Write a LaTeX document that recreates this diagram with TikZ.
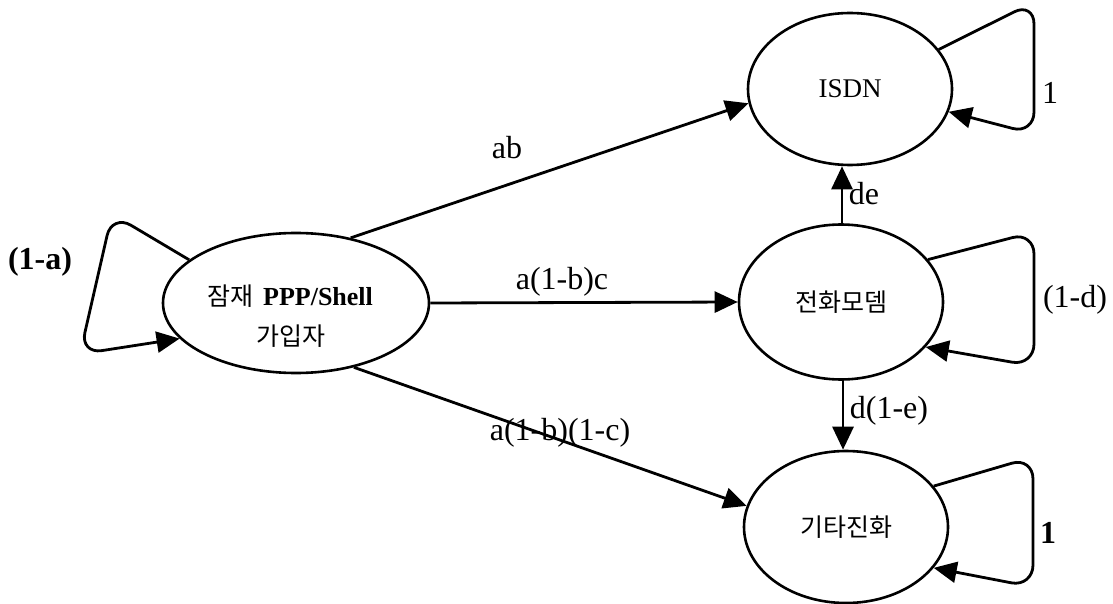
\documentclass[tikz,border=0pt]{standalone}
\usepackage{fontspec}
\setmainfont{Liberation Serif}
\newfontfamily\kr{Noto Sans CJK KR}
\usetikzlibrary{shapes.geometric,arrows.meta}
\begin{document}
\begin{tikzpicture}[x=1pt,y=-1pt,
  state/.style={draw, ellipse, line width=2.6pt, inner sep=0pt},
  edge/.style={line width=2.8pt, -{Triangle[length=23pt,width=21pt]}},
  loopedge/.style={edge, rounded corners=22pt},
  lbl/.style={font=\fontsize{32}{36}\selectfont, inner sep=0pt},
  krtext/.style={font=\kr\fontsize{25}{40}\selectfont}]
\useasboundingbox (0,0) rectangle (1113,604);
\node[state, minimum width=266pt, minimum height=140pt, align=center] (A) at (296,303) {};
\node[krtext, anchor=center] (A1) at (290,296) {잠재\hspace{10pt}\fontspec{Liberation Serif}\bfseries\fontsize{26}{30}\selectfont PPP/Shell};
\node[krtext, anchor=center] (A2) at (291,336) {가입자};
\node[state, minimum width=204pt, minimum height=152pt] (isdn) at (850,89) {\fontsize{27}{30}\selectfont ISDN};
\node[state, minimum width=204pt, minimum height=155pt] (modem) at (841,302) {\kr\fontsize{25}{28}\selectfont 전화모뎀};
\node[state, minimum width=204pt, minimum height=152pt] (other) at (846,527) {\kr\fontsize{25}{28}\selectfont 기타진화};
% edges
\draw[edge] (A.50) -- (isdn.188);
\draw[edge] (A.east) -- (modem.west);
\draw[edge] (A.-48) -- (other.168);
\draw[edge] (modem.north -| 842,0) -- (isdn.south -| 842,0);
\draw[edge] (modem.south -| 843,0) -- (other.north -| 843,0);
% self loops
\coordinate (l1a) at (112,214);
\coordinate (l1b) at (80,354);
\draw[loopedge] (A.158) -- (l1a) -- (l1b) -- (A.197);
\coordinate (l2a) at (1034,2);
\coordinate (l2b) at (1034,134);
\draw[loopedge] (isdn.24) -- (l2a) -- (l2b) -- (isdn.-13);
\coordinate (l3a) at (1034,232);
\coordinate (l3b) at (1034,366);
\draw[loopedge] (modem.26) -- (l3a) -- (l3b) -- (modem.-28);
\coordinate (l4a) at (1033,457);
\coordinate (l4b) at (1033,587);
\draw[loopedge] (other.25) -- (l4a) -- (l4b) -- (other.-25);
% labels
\node[lbl, font=\fontsize{32}{36}\selectfont\bfseries] (la) at (40,262) {(1-a)};
\node[lbl] (lab) at (507,148) {ab};
\node[lbl] (labc) at (562,282) {a(1-b)c};
\node[lbl] (labcc) at (560,433) {a(1-b)(1-c)};
\node[lbl] (lde) at (864,194) {de};
\node[lbl] (lde2) at (889,411) {d(1-e)};
\node[lbl] (l1) at (1050,93) {1};
\node[lbl] (l1d) at (1075,300) {(1-d)};
\node[lbl, font=\fontsize{32}{36}\selectfont\bfseries] (l1b2) at (1048,533) {1};
\end{tikzpicture}
\end{document}
